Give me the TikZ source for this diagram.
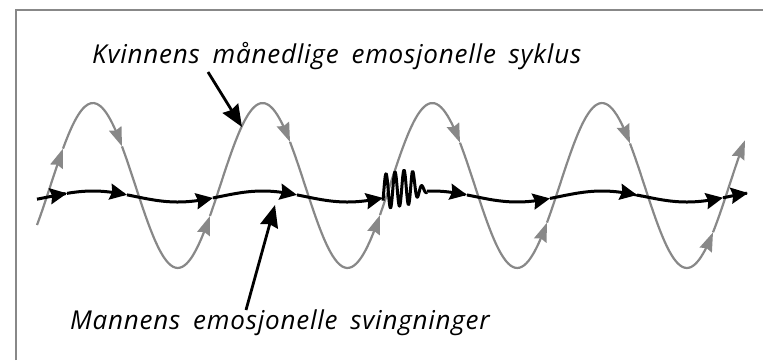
\documentclass[tikz,border=0pt]{standalone}
\usepackage{fontspec}
\usepackage{xcolor}
\usepackage{tikz}
\usetikzlibrary{arrows.meta, calc}
\newfontfamily\labelfont[LetterSpace=3, WordSpace=1.7]{Open Sans}
\definecolor{cyclegray}{RGB}{136, 136, 136}

\tikzset{
    declare function={cyclewave(\t)=185.5-82.5*sin((\t-50.5)/169.7*360);
                      swingwave(\t)=196.5-5.5*sin((\t-50.5)/169.7*360);},
    framebox/.style={draw=cyclegray, line width=1.2pt},
    cycleline/.style={cyclegray, line width=2.2pt},
    cyclearrow/.style={cycleline, -{Stealth[length=19pt, width=13pt, inset=2pt]}},
    swingline/.style={black, line width=3pt},
    swingarrow/.style={swingline, -{Stealth[length=17pt, width=16pt, inset=2pt]}},
    notearrow/.style={black, line width=2.8pt, -{Stealth[length=22pt, width=18pt, inset=2pt]}},
    notelabel/.style={font=\labelfont\itshape\fontsize{26}{30}\selectfont,
                      inner sep=0pt, anchor=base west}
}

\begin{document}
\begin{tikzpicture}[x=1pt, y=-1pt]
    \useasboundingbox (0,0) rectangle (763,360);
    \draw[framebox] (16,360) -- (16,10) -- (763,10);

    % the woman's cycle
    \foreach \a/\b in {37/63, 63/122, 122/210, 210/290, 290/380,
                       380/460, 460/547, 547/630, 630/713, 713/745}
        \draw[cyclearrow] plot[domain=\a:\b, samples=20, smooth] (\x, {cyclewave(\x)});

    % the man's swings
    \foreach \a/\b in {37/67, 67/127, 127/213, 213/297, 297/383,
                       427/467, 467/550, 550/637, 637/723, 723/748}
        \draw[swingarrow] plot[domain=\a:\b, samples=20, smooth] (\x, {swingwave(\x)});
    \draw[swingline, line join=round] plot[domain=383:427, samples=200, smooth]
        (\x, {swingwave(\x) - (6+17.5*cos((\x-386)/9*360))*min(1, exp(-(\x-412)/7))});

    % labels
    \node[notelabel] (cyclelabel) at (92,63) {Kvinnens månedlige emosjonelle syklus};
    \node[notelabel] (swinglabel) at (70,329) {Mannens emosjonelle svingninger};
    \coordinate (cyclefrom) at (208,72);
    \coordinate (cycletip) at (242,127);
    \coordinate (swingfrom) at (246,310);
    \coordinate (swingtip) at (275,205);
    \draw[notearrow] (cyclefrom) -- (cycletip);
    \draw[notearrow] (swingfrom) -- (swingtip);
\end{tikzpicture}
\end{document}
